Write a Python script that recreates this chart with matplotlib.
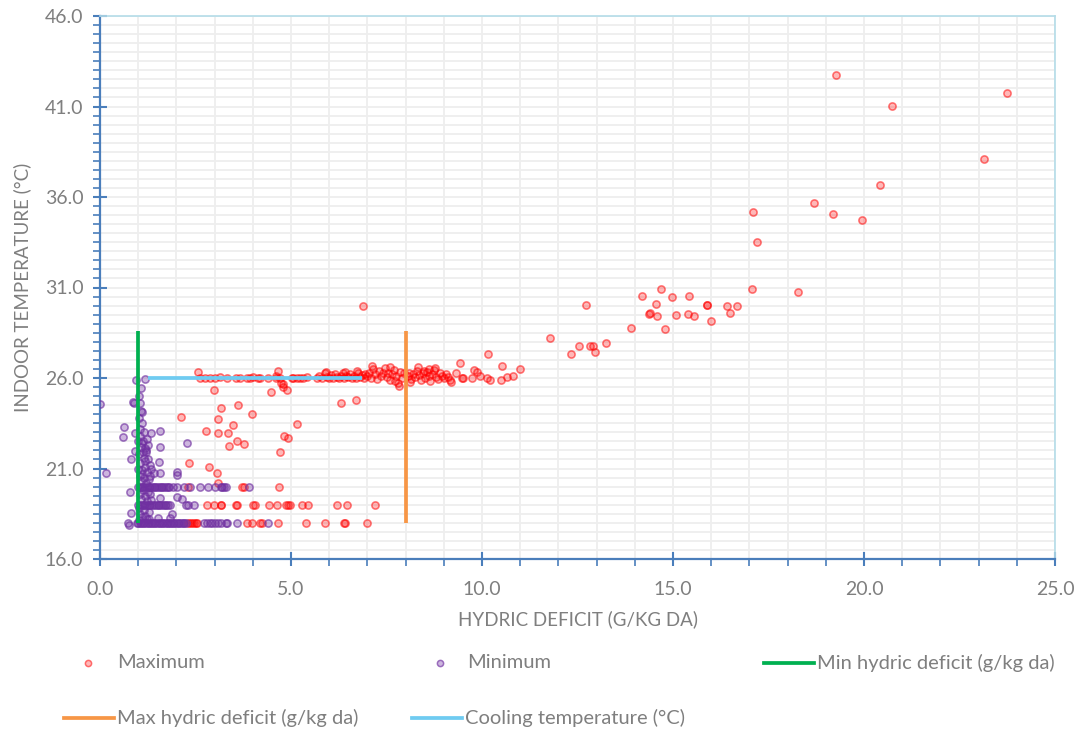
import numpy as np
import matplotlib
matplotlib.use("Agg")
import matplotlib.pyplot as plt
from matplotlib.lines import Line2D
from matplotlib.ticker import FixedLocator, FormatStrFormatter

plt.rcParams['font.family'] = ['Lato', 'DejaVu Sans']

# ---------------- data ----------------
# Maximum series (red): scattered / upper region
max_x_upper = [19.28, 23.75, 20.74, 23.15, 20.43, 18.70, 17.10, 19.20, 19.94, 17.21, 17.06, 18.28,
               15.89, 16.41, 16.67, 16.48, 16.00, 10.99, 11.79, 12.34, 12.54, 12.84, 12.91, 12.97,
               13.24, 12.73, 13.90, 14.18, 14.68, 14.56, 14.37, 14.40, 14.57, 14.78, 14.98, 15.08,
               15.41, 15.38, 15.55, 15.90, 6.88]
max_y_upper = [42.76, 41.73, 41.01, 38.10, 36.65, 35.69, 35.17, 35.04, 34.75, 33.53, 30.92, 30.75,
               30.03, 29.99, 29.96, 29.57, 29.17, 26.51, 28.23, 27.31, 27.77, 27.75, 27.79, 27.42,
               27.95, 30.03, 28.76, 30.53, 30.93, 30.09, 29.52, 29.61, 29.41, 28.71, 30.48, 29.48,
               30.53, 29.55, 29.43, 30.05, 29.98]

# Maximum series: band around the cooling temperature
max_x_band = [10.15, 9.43, 10.53, 10.80, 10.66, 10.50, 10.21, 10.12, 9.96, 9.78, 9.88, 9.75, 9.51,
              9.48, 9.31, 9.18, 9.12, 9.15,
              8.05, 8.10, 8.15, 8.20, 8.25, 8.30, 8.35, 8.40, 8.45, 8.50, 8.55, 8.60, 8.65, 8.70,
              8.75, 8.80, 8.85, 8.90, 8.95, 9.00, 9.05, 8.62, 8.78, 8.12, 8.32, 8.48,
              7.00, 7.05, 7.10, 7.15, 7.20, 7.25, 7.30, 7.35, 7.40, 7.45, 7.50, 7.55, 7.60, 7.65,
              7.70, 7.75, 7.80, 7.85, 7.90, 7.95, 7.82, 7.72, 7.58, 7.12,
              5.91, 5.95, 6.00, 6.05, 6.10, 6.15, 6.20, 6.25, 6.30, 6.35, 6.40, 6.45, 6.50, 6.55,
              6.60, 6.65, 6.70, 6.75, 6.80, 6.85, 6.90, 6.95, 6.72, 6.42,
              2.62, 2.75, 2.88, 3.01, 3.14, 3.32, 3.56, 3.66, 3.84, 3.93, 4.01, 4.14, 4.19, 4.41,
              4.62, 4.71, 5.02, 5.06, 5.15, 5.24, 5.32, 5.41, 5.67, 5.80]
max_y_band = [27.34, 26.85, 26.68, 26.13, 26.04, 25.89, 25.87, 26.02, 26.13, 26.46, 26.35, 26.02, 26.02,
              26.00, 26.26, 25.80, 26.04, 25.90,
              26.10, 26.30, 25.95, 26.20, 26.05, 26.40, 26.15, 25.90, 26.25, 26.00, 26.35, 26.10, 25.85, 26.20,
              26.45, 26.05, 25.95, 26.30, 26.10, 26.00, 26.20, 26.50, 26.55, 25.80, 26.60, 26.40,
              26.10, 26.30, 26.00, 26.50, 26.20, 25.95, 26.40, 26.10, 26.25, 26.55, 26.05, 26.30, 25.90, 26.20,
              26.45, 26.10, 25.70, 26.35, 26.00, 26.25, 25.55, 25.85, 26.60, 26.65,
              26.31, 26.05, 26.00, 26.15, 26.00, 26.20, 26.05, 26.00, 26.10, 26.25, 26.00, 26.10, 26.05, 26.20,
              26.00, 26.10, 26.00, 26.30, 26.05, 26.15, 26.00, 26.20, 26.40, 26.35,
              26.00, 26.02, 25.98, 26.00, 26.03, 26.00, 25.98, 26.02, 26.00, 26.00, 26.03, 26.00, 25.98, 26.00,
              26.02, 26.00, 25.98, 26.00, 26.02, 26.00, 26.00, 26.03, 26.00, 25.98]

# Maximum series: scattered between 20 and 26.5
max_x_mid = [2.56, 4.67, 5.72, 5.89, 4.61, 4.80, 4.80, 4.90, 4.48, 2.98, 3.62, 3.99, 3.16, 3.08, 3.49,
             5.17, 2.77, 3.09, 3.35, 3.59, 3.37, 3.78, 4.81, 4.91, 4.70, 2.86, 3.05, 3.10, 6.32, 6.71,
             2.11, 2.34, 4.75]
max_y_mid = [26.35, 26.39, 26.12, 26.26, 26.11, 25.67, 25.48, 25.35, 25.23, 25.32, 24.51, 24.00, 24.33,
             23.73, 23.40, 23.47, 23.09, 22.98, 22.98, 22.54, 22.26, 22.34, 22.81, 22.67, 21.90, 21.08,
             20.73, 20.20, 24.64, 24.77, 23.85, 21.29, 25.71]

# Maximum series: rows at 20, 19 and 18 °C
max_x_row20 = [2.31, 3.71, 3.77, 4.69]
max_x_row19 = [2.79, 2.98, 3.16, 3.18, 3.55, 3.58, 4.01, 4.06, 4.42, 4.64, 4.87, 4.93, 4.97, 5.30,
               5.45, 6.21, 6.46, 7.19]
max_x_row18 = [2.30, 2.35, 2.40, 2.45, 2.50, 2.55, 3.84, 3.99, 4.19, 4.23, 4.67, 5.38, 5.90, 6.39,
               6.41, 7.00]

# Minimum series (purple): scattered
min_x_scatter = [0.00, 0.15, 0.87, 0.90, 1.11, 0.64, 0.60, 0.91, 1.34, 1.57, 1.24, 1.11, 2.28, 1.57,
                 1.18, 1.20, 0.91, 0.82, 1.55, 1.34, 1.42, 1.57, 2.02, 2.02, 0.79, 1.57, 1.34, 2.01,
                 2.14, 0.81, 1.27, 1.53, 1.83, 1.88, 0.75, 1.18, 0.94, 1.07, 0.74]
min_y_scatter = [24.56, 20.77, 24.67, 24.64, 24.10, 23.29, 22.74, 22.98, 22.94, 23.07, 22.61, 22.39,
                 22.43, 22.21, 22.15, 21.93, 21.95, 21.54, 21.37, 20.97, 20.77, 20.77, 20.82, 20.62,
                 19.68, 19.37, 19.26, 19.44, 19.33, 18.52, 18.21, 18.28, 18.28, 18.49, 17.88, 25.94,
                 25.89, 25.43, 18.00]
# Minimum series: column near the min hydric deficit
min_x_col = [1.02, 1.05, 1.08, 1.03, 1.10, 1.06, 1.15, 1.04, 1.12, 1.08, 1.20, 1.03, 1.14, 1.25, 1.06,
             1.18, 1.30, 1.09, 1.22, 1.04, 1.15, 1.28, 1.07, 1.20, 1.12, 1.25, 1.05, 1.18, 1.32, 1.08,
             1.22, 1.03, 1.15, 1.28, 1.06, 1.19, 1.10, 1.24, 1.02, 1.13, 1.17, 1.26, 1.10, 1.30, 1.00,
             1.00]
min_y_col = [25.00, 24.60, 24.20, 23.80, 23.50, 23.20, 23.00, 22.80, 22.50, 22.20, 22.00, 21.80, 21.60,
             21.50, 21.30, 21.10, 21.20, 20.90, 20.80, 20.60, 20.50, 20.40, 20.30, 20.20, 19.80, 19.70,
             19.60, 19.50, 19.60, 19.30, 19.20, 18.80, 18.70, 18.60, 18.50, 18.40, 18.30, 18.20, 18.15,
             21.90, 21.40, 22.30, 20.70, 20.60, 22.50, 21.00]
# Minimum series: rows at 20, 19 and 18 °C
min_x_row20 = [1.00, 1.04, 1.09, 1.13, 1.18, 1.22, 1.27, 1.31, 1.36, 1.41, 1.45, 1.50, 1.54, 1.59,
               1.63, 1.68, 1.72, 1.77, 1.81, 1.92, 2.02, 2.20, 2.36, 2.61, 2.84, 3.01, 3.17, 3.20,
               3.24, 3.30, 3.90]
min_x_row19 = [1.00, 1.05, 1.09, 1.14, 1.18, 1.23, 1.28, 1.32, 1.37, 1.42, 1.46, 1.51, 1.55, 1.60,
               1.65, 1.69, 1.74, 1.78, 1.83, 2.24, 2.31, 2.46]
min_x_row18 = [0.96, 1.00, 1.04, 1.08, 1.12, 1.16, 1.20, 1.25, 1.29, 1.33, 1.37, 1.41, 1.45, 1.50,
               1.54, 1.58, 1.62, 1.66, 1.70, 1.75, 1.79, 1.83, 1.87, 1.91, 1.95, 2.00, 2.04, 2.08,
               2.12, 2.16, 2.20, 2.25, 2.71, 2.79, 2.88, 2.94, 3.01, 3.10, 3.16, 3.29, 3.33, 3.58,
               4.40]

# Reference lines
min_hd_x = [1.0, 1.0]
min_hd_y = [18.0, 28.6]
max_hd_x = [8.0, 8.0]
max_hd_y = [18.0, 28.6]
cool_x = [1.25, 6.85]
cool_y = [26.0, 26.0]

# ---------------- assemble ----------------
max_x = max_x_upper + max_x_band + max_x_mid + max_x_row20 + max_x_row19 + max_x_row18
max_y = (max_y_upper + max_y_band + max_y_mid + [20.0] * len(max_x_row20)
         + [19.0] * len(max_x_row19) + [18.0] * len(max_x_row18))
min_x = min_x_scatter + min_x_col + min_x_row20 + min_x_row19 + min_x_row18
min_y = (min_y_scatter + min_y_col + [20.0] * len(min_x_row20)
         + [19.0] * len(min_x_row19) + [18.0] * len(min_x_row18))

W, H = 1083, 736
fig = plt.figure(figsize=(W / 100, H / 100), dpi=100)
ax = fig.add_axes([100 / W, 1 - 559 / H, 955 / W, 543 / H])

RED_FACE = (1, 0, 0, 0.28)
RED_EDGE = (1, 0, 0, 0.52)
PUR_FACE = (0.44, 0.19, 0.63, 0.35)
PUR_EDGE = (0.44, 0.19, 0.63, 0.65)
GREEN = '#00B050'
ORANGE = '#F79646'
CYAN = '#6FCBF1'
AXBLUE = '#4A7EBB'
TXT = '#7F7F7F'

ax.scatter(max_x, max_y, s=27, facecolor=RED_FACE, edgecolor=RED_EDGE, linewidth=1.15, zorder=3)
ax.scatter(min_x, min_y, s=27, facecolor=PUR_FACE, edgecolor=PUR_EDGE, linewidth=1.15, zorder=3)
ax.plot(min_hd_x, min_hd_y, color=GREEN, lw=2.7, zorder=4, solid_capstyle='butt')
ax.plot(max_hd_x, max_hd_y, color=ORANGE, lw=2.7, zorder=4, solid_capstyle='butt')
ax.plot(cool_x, cool_y, color=CYAN, lw=2.7, zorder=4, solid_capstyle='butt')

ax.set_xlim(0, 25)
ax.set_ylim(16, 46)
ax.xaxis.set_major_locator(FixedLocator([0, 5, 10, 15, 20, 25]))
ax.xaxis.set_minor_locator(FixedLocator(list(range(0, 26))))
ax.yaxis.set_major_locator(FixedLocator([16, 21, 26, 31, 36, 41, 46]))
ax.yaxis.set_minor_locator(FixedLocator([16 + 0.5 * i for i in range(61)]))
ax.xaxis.set_major_formatter(FormatStrFormatter('%.1f'))
ax.yaxis.set_major_formatter(FormatStrFormatter('%.1f'))

ax.grid(which='both', color='#EEEEEE', lw=1.3, zorder=0)
ax.set_axisbelow(True)

for s in ['left', 'bottom']:
    ax.spines[s].set_color(AXBLUE)
    ax.spines[s].set_linewidth(1.6)
for s in ['top', 'right']:
    ax.spines[s].set_color('#B4DCE8')
    ax.spines[s].set_linewidth(1.2)

ax.tick_params(which='major', direction='inout', length=10, width=1.5, color=AXBLUE,
               labelsize=14, labelcolor=TXT)
ax.tick_params(which='minor', direction='out', length=5, width=1.2, color=AXBLUE)
ax.tick_params(axis='y', which='major', pad=7)
ax.tick_params(axis='x', which='major', pad=11)

ax.set_xlabel('HYDRIC DEFICIT (G/KG DA)', fontsize=13.5, color=TXT, labelpad=9)
ax.set_ylabel('INDOOR TEMPERATURE (°C)', fontsize=13.5, color=TXT, labelpad=10)

# ---------------- legend (manual, figure pixel coordinates) ----------------
def fx(px):
    return px / W

def fy(py):
    return 1 - py / H

leg_fs = 14.5
fig.add_artist(Line2D([fx(88)], [fy(663)], marker='o', markersize=4.5, linestyle='none',
                      markerfacecolor=RED_FACE, markeredgecolor=RED_EDGE,
                      markeredgewidth=1.1, transform=fig.transFigure))
fig.text(fx(117), fy(663), 'Maximum', fontsize=leg_fs, color=TXT, va='center', ha='left')
fig.add_artist(Line2D([fx(440)], [fy(663)], marker='o', markersize=4.5, linestyle='none',
                      markerfacecolor=PUR_FACE, markeredgecolor=PUR_EDGE,
                      markeredgewidth=1.1, transform=fig.transFigure))
fig.text(fx(467), fy(663), 'Minimum', fontsize=leg_fs, color=TXT, va='center', ha='left')
fig.add_artist(Line2D([fx(764), fx(814)], [fy(663), fy(663)], color=GREEN, lw=2.7,
                      transform=fig.transFigure))
fig.text(fx(817), fy(663), 'Min hydric deficit (g/kg da)', fontsize=leg_fs, color=TXT,
         va='center', ha='left')
fig.add_artist(Line2D([fx(64), fx(114)], [fy(718), fy(718)], color=ORANGE, lw=2.7,
                      transform=fig.transFigure))
fig.text(fx(117), fy(718), 'Max hydric deficit (g/kg da)', fontsize=leg_fs, color=TXT,
         va='center', ha='left')
fig.add_artist(Line2D([fx(412), fx(462)], [fy(718), fy(718)], color=CYAN, lw=2.7,
                      transform=fig.transFigure))
fig.text(fx(465), fy(718), 'Cooling temperature (°C)', fontsize=leg_fs, color=TXT,
         va='center', ha='left')

fig.savefig('out.png', dpi=100)
